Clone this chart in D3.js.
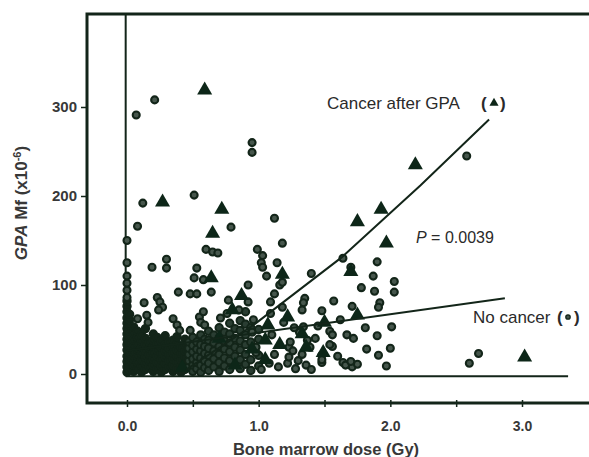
<!DOCTYPE html>
<html><head><meta charset="utf-8">
<script src="https://cdn.jsdelivr.net/npm/d3@7"></script>
<style>body{margin:0;background:#fff}svg{display:block}text{font-family:"Liberation Sans",Arial,sans-serif}</style>
</head><body><svg id="c" width="589" height="457"></svg>
<script>
// ---- data ----
const xTicks = [0, 0.5, 1, 1.5, 2, 2.5, 3];
const xTickLabels = ["0.0", "", "1.0", "", "2.0", "", "3.0"];
const yTicks = [0, 100, 200, 300];
const yTickLabels = ["0", "100", "200", "300"];

// Cancer after GPA (triangles): [dose Gy, Mf x10^-6]
const cancerPts = [
 [0.59,319],[0.27,193],[0.72,185],[0.65,158],[0.64,108],[1.18,112],[0.87,88],[0.80,72],
 [1.75,171],[1.97,147],[1.93,185],[2.19,235],[1.70,115],[1.75,66],[3.02,19],[1.49,24],
 [1.07,55],[1.22,64],[1.05,38],[1.16,33],[1.05,16],[0.82,10],[0.42,7],[1.33,45],[1.36,30],
 [0.95,28],[1.50,58],[0.70,40]
];

// No cancer (circles), sparse part: [dose, Mf]
const noCancerPts = [
 [0.07,291],[0.21,308],[0.95,260],[0.95,249],[0.12,192],[0.51,201],[1.12,175],[0.08,166],
 [0.79,165],[1.18,147],[0.00,150],[0.60,140],[0.65,137],[0.69,136],[0.99,140],[1.03,133],
 [1.02,125],[1.03,120],[1.14,125],[1.06,110],[0.00,125],[0.00,110],[0.19,120],[0.30,129],
 [0.30,119],[0.53,119],[0.51,108],[0.58,106],[1.16,100],[0.39,92],[0.48,90],[0.53,90],
 [0.77,83],[0.92,81],[1.09,81],[0.00,102],[0.00,94],[0.00,86],[0.13,80],[0.23,86],[0.25,81],
 [0.27,75],[0.24,72],[0.15,66],[0.16,58],[0.38,55],[0.40,49],[0.48,49],[0.55,64],[0.58,70],
 [0.56,58],[0.59,55],[0.71,63],[0.76,68],
 [1.64,130],[1.90,126],[1.40,113],[1.70,120],[1.87,110],[2.03,104],[1.78,97],[1.88,93],
 [2.03,92],[1.35,85],[1.34,80],[1.33,72],[1.57,82],[1.71,76],[1.92,80],[1.91,75],[1.48,71],
 [1.62,61],[1.81,52],[2.01,53],[1.54,48],[1.56,44],[1.67,44],[1.72,40],[1.90,43],[1.56,31],
 [1.82,28],[2.00,29],[1.91,21],[1.64,13],[1.71,8],[1.75,11],[1.97,9],[1.48,21],[1.48,13],
 [2.60,12],[2.67,23],[2.58,245],[1.18,103],[1.09,68],[1.18,75],[1.19,58],[0.96,61],[1.34,53],
 [1.45,54],[0.95,47],[1.31,47],[1.37,38],[1.39,30],[1.23,30],[1.24,36],[1.54,33],[1.48,16],
 [1.22,12],[1.23,19],[0.98,24],[0.98,30],[1.66,10],[1.70,14],[1.02,5],[1.08,12],[1.12,22],
 [1.15,8],[1.28,6],[1.30,15],[1.33,22],[1.36,10],[1.40,5],[1.26,26],[1.10,44],[1.27,52],
 [1.60,20],[1.43,40],[1.12,90],[0.85,72],[0.92,100],[0.64,92],[0.35,62],[0.08,62]
];

// No cancer, dense low-dose mass: dose -> list of Mf values
const denseDose = [0.00,0.02,0.05,0.08,0.11,0.14,0.17,0.20,0.23,0.26,0.29,0.32,0.35,0.38,0.41,
 0.44,0.47,0.50,0.53,0.56,0.59,0.62,0.66,0.70,0.74,0.78,0.82,0.86,0.90,0.94,1.00];
const denseMf = [
 [2,8,14,20,27,33,39,45,51,57,63,70,76,82],
 [5,11,17,24,30,36,42,48,55,61,67],
 [3,10,17,24,31,38,46,53],
 [6,13,20,27,34,41,48],
 [2,9,16,23,30,37,44],
 [5,12,19,26,33,40,51],
 [8,15,22,29,36],
 [3,10,17,24,31,38,45],
 [6,13,20,27,34,41],
 [2,9,16,23,30,37],
 [5,12,19,26,33,43],
 [8,15,22,29,36],
 [3,10,17,24,31,38],
 [6,13,20,27,34,42],
 [2,9,16,23,30],
 [5,12,19,26,33,39],
 [8,15,22,29,36],
 [3,10,17,25,32,41],
 [6,13,20,28,36],
 [2,10,18,26,33,44],
 [7,15,23,31,39],
 [4,12,21,29,38,48],
 [8,17,26,35,44],
 [3,13,22,31,41,52],
 [9,18,28,37,47],
 [5,15,25,35,45,57],
 [20,30,40,51],
 [6,16,27,37,49,60],
 [11,22,33,44,56,70],
 [4,16,36,52],
 [9,21,39,50]
];

// fitted lines
const fitNoCancer = [[0,26],[2.87,85]];
const fitCancer = [[0.45,5],[0.97,56],[1.63,131],[2.23,212],[2.75,286]];

// ---- drawing ----
const svg = d3.select("#c");
const ink = "#132519", txt = "#383838";
const x = d3.scaleLinear().domain([0,3]).range([127,522]);
const y = d3.scaleLinear().domain([0,300]).range([374,107]);

// frame
svg.append("rect").attr("x",87).attr("y",14).attr("width",520).attr("height",389)
  .attr("fill","none").attr("stroke",ink).attr("stroke-width",3);

// inner zero lines
svg.append("line").attr("x1",x(-0.01)).attr("x2",x(-0.01)).attr("y1",14).attr("y2",y(-2.5))
  .attr("stroke",ink).attr("stroke-width",2);
svg.append("line").attr("x1",x(-0.01)).attr("x2",x(3.35)).attr("y1",y(-2.5)).attr("y2",y(-2.5))
  .attr("stroke",ink).attr("stroke-width",2);

// y axis ticks on frame
const ya = d3.axisLeft(y).tickValues(yTicks).tickFormat((d,i)=>yTickLabels[i]).tickSize(6).tickPadding(4);
const gy = svg.append("g").attr("transform","translate(87,0)").call(ya);
gy.select(".domain").remove();
gy.selectAll("line").attr("stroke",ink).attr("stroke-width",1.5);
gy.selectAll("text").attr("fill",txt).attr("font-size",15).attr("font-weight","bold")
  .attr("font-family","'Liberation Sans',Arial,sans-serif");

// x axis ticks on frame
const xa = d3.axisBottom(x).tickValues(xTicks).tickFormat((d,i)=>xTickLabels[i]).tickSize(4).tickPadding(14);
const gx = svg.append("g").attr("transform","translate(0,403)").call(xa);
gx.select(".domain").remove();
gx.selectAll("line").attr("stroke",ink).attr("stroke-width",1.5).attr("y1",-3);
gx.selectAll("text").attr("fill",txt).attr("font-size",14).attr("font-weight","bold")
  .attr("font-family","'Liberation Sans',Arial,sans-serif");

// points
const dense = [];
denseDose.forEach((d,i)=>denseMf[i].forEach(m=>dense.push([d,m])));
svg.append("g").selectAll("circle").data(dense).join("circle")
  .attr("cx",d=>x(d[0])).attr("cy",d=>y(d[1])).attr("r",3.7)
  .attr("fill",d=>d[0]<0.45?ink:"#2a3d32").attr("stroke",ink).attr("stroke-width",2);
svg.append("g").selectAll("circle").data(noCancerPts).join("circle")
  .attr("cx",d=>x(d[0])).attr("cy",d=>y(d[1])).attr("r",3.5)
  .attr("fill","#46564c").attr("stroke",ink).attr("stroke-width",2.1);

const tri = d3.symbol().type(d3.symbolTriangle).size(98);
svg.append("g").selectAll("path").data(cancerPts).join("path")
  .attr("d",tri).attr("transform",d=>`translate(${x(d[0])},${y(d[1])})`)
  .attr("fill","#0d2618");

// fitted lines
const line = d3.line().x(d=>x(d[0])).y(d=>y(d[1]));
svg.append("path").attr("d",line(fitNoCancer)).attr("fill","none").attr("stroke",ink).attr("stroke-width",2);
svg.append("path").attr("d",line(fitCancer)).attr("fill","none").attr("stroke",ink).attr("stroke-width",2);

// annotations
svg.append("text").attr("x",327).attr("y",109).attr("font-size",17).attr("fill","#2a2a2a")
  .text("Cancer after GPA");
svg.append("text").attr("x",481).attr("y",109).attr("font-size",17).attr("fill","#2a2a2a").attr("font-weight","bold").text("(");
svg.append("text").attr("x",500).attr("y",109).attr("font-size",17).attr("fill","#2a2a2a").attr("font-weight","bold").text(")");
svg.append("path").attr("d",d3.symbol().type(d3.symbolTriangle).size(36)()).attr("transform","translate(494,103)").attr("fill","#0d2618");

const pt = svg.append("text").attr("x",416).attr("y",243).attr("font-size",16).attr("fill","#2a2a2a");
pt.append("tspan").attr("font-style","italic").text("P");
pt.append("tspan").text(" = 0.0039");

svg.append("text").attr("x",473).attr("y",323).attr("font-size",17).attr("fill","#2a2a2a").text("No cancer");
svg.append("text").attr("x",557).attr("y",323).attr("font-size",17).attr("fill","#2a2a2a").attr("font-weight","bold").text("(");
svg.append("text").attr("x",574).attr("y",323).attr("font-size",17).attr("fill","#2a2a2a").attr("font-weight","bold").text(")");
svg.append("circle").attr("cx",568).attr("cy",317).attr("r",2.2).attr("fill","#46564c").attr("stroke",ink).attr("stroke-width",1.3);

// axis titles
svg.append("text").attr("x",326).attr("y",455).attr("text-anchor","middle").attr("font-size",16.5)
  .attr("font-weight","bold").attr("fill",txt).text("Bone marrow dose (Gy)");
const yt = svg.append("text").attr("transform","translate(27,203) rotate(-90)").attr("text-anchor","middle")
  .attr("font-size",17).attr("font-weight","bold").attr("fill",txt);
yt.append("tspan").attr("font-style","italic").text("GPA");
yt.append("tspan").text(" Mf (x10");
yt.append("tspan").attr("font-size",11).attr("dy",-6).text("-6");
yt.append("tspan").attr("dy",6).text(")");
</script></body></html>
